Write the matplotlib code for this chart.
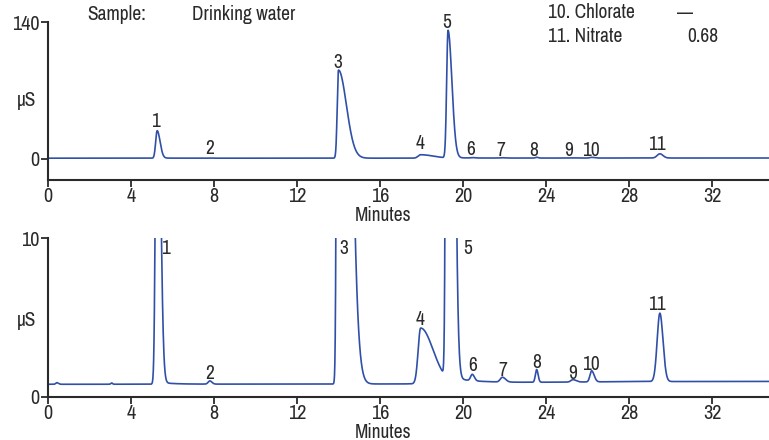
import matplotlib
matplotlib.use("Agg")
import matplotlib.pyplot as plt
from matplotlib import font_manager
import numpy as np

# prefer a narrow face if one is around
narrow = [f.name for f in font_manager.fontManager.ttflist
          if 'Narrow' in f.name or 'Condensed' in f.name or f.stretch == 'condensed']
plt.rcParams['font.family'] = sorted(set(narrow)) + ['DejaVu Sans']
plt.rcParams['font.stretch'] = 'condensed'

# peaks (minutes, µS above baseline)
peak_time = [0.42, 3.07, 5.26, 7.8, 14.0, 17.96, 19.28, 20.45, 21.9, 23.55, 25.3, 26.2, 29.49]
peak_height = [0.1, 0.08, 28.0, 0.2, 90.0, 3.5, 130.0, 0.4, 0.3, 0.8, 0.15, 0.7, 4.3]
sigma_left = [0.05, 0.04, 0.07, 0.08, 0.06, 0.12, 0.066, 0.08, 0.1, 0.06, 0.1, 0.08, 0.13]
sigma_right = [0.08, 0.04, 0.14, 0.1, 0.38, 0.6, 0.185, 0.1, 0.15, 0.07, 0.15, 0.12, 0.15]
tail_amp = [0, 0, 0.15, 0, 0.05, 0, 0.4, 0, 0, 0, 0, 0, 0]
tail_tau = [1, 1, 0.6, 1, 0.5, 1, 1.2, 1, 1, 1, 1, 1, 1]

# baseline drift (minutes, µS)
base_time = [0, 17, 22, 28, 34.75]
base_level = [0.8, 0.82, 0.9, 0.97, 0.98]

# peak labels
label_text = ['1', '2', '3', '4', '5', '6', '7', '8', '9', '10', '11']
top_label_x = [5.16, 7.8, 13.98, 17.93, 19.23, 20.39, 21.83, 23.42, 25.1, 26.17, 29.35]
top_label_y = [38.8, 11.2, 99, 16.3, 139, 9.2, 8.2, 8.2, 8.2, 8.2, 14.3]
bot_label_x = [5.67, 7.8, 14.27, 17.93, 20.24, 20.45, 21.93, 23.55, 25.3, 26.17, 29.35]
bot_label_y = [9.37, 1.5, 9.37, 4.9, 9.37, 1.97, 1.65, 2.18, 1.49, 2.07, 5.83]

x_ticks = [0, 4, 8, 12, 16, 20, 24, 28, 32]

t = np.linspace(0, 34.75, 4000)
signal = np.interp(t, base_time, base_level)
for t0, h, sl, sr, ta, tt in zip(peak_time, peak_height, sigma_left, sigma_right, tail_amp, tail_tau):
    sig = np.where(t < t0, sl, sr)
    signal += h * np.exp(-0.5 * ((t - t0) / sig) ** 2)
    signal += np.where(t > t0, ta * np.exp(-(t - t0) / tt), 0)

trace_color = '#3050a8'
ink = '#2a2a2a'
fs = 14
fs_tick = 14.5

fig = plt.figure(figsize=(7.69, 4.40), dpi=100)
ax1 = fig.add_axes([48 / 769, 1 - 180 / 440, 1 - 48 / 769, 158 / 440])
ax2 = fig.add_axes([48 / 769, 1 - 397 / 440, 1 - 48 / 769, 159 / 440])


def style(ax, ylim, yticks, labx, laby):
    ax.plot(t, signal, color=trace_color, lw=1.2)
    ax.set_xlim(0, 34.75)
    ax.set_ylim(*ylim)
    ax.set_xticks(x_ticks)
    ax.set_yticks(yticks)
    for s in ['top', 'right']:
        ax.spines[s].set_visible(False)
    for s in ['left', 'bottom']:
        ax.spines[s].set_linewidth(1.5)
        ax.spines[s].set_color(ink)
    ax.tick_params(length=5, width=1.3, color=ink, labelcolor=ink, labelsize=fs_tick, pad=1)
    ax.tick_params(axis='x', pad=0)
    for lx, ly, lt in zip(labx, laby, label_text):
        ax.text(lx, ly, lt, ha='center', va='center', fontsize=fs, color=ink)


style(ax1, (-21.5, 140), [0, 140], top_label_x, top_label_y)
style(ax2, (0, 10), [0, 10], bot_label_x, bot_label_y)

fig.text(27 / 769, 1 - 100 / 440, 'µS', ha='center', va='center', fontsize=fs, color=ink)
fig.text(27 / 769, 1 - 320 / 440, 'µS', ha='center', va='center', fontsize=fs, color=ink)
fig.text(383 / 769, 1 - 215 / 440, 'Minutes', ha='center', va='center', fontsize=fs, color=ink)
fig.text(383 / 769, 1 - 432 / 440, 'Minutes', ha='center', va='center', fontsize=fs, color=ink)

fig.text(87 / 769, 1 - 14 / 440, 'Sample:', ha='left', va='center', fontsize=fs, color=ink)
fig.text(192 / 769, 1 - 14 / 440, 'Drinking water', ha='left', va='center', fontsize=fs, color=ink)
fig.text(548 / 769, 1 - 13 / 440, '10. Chlorate', ha='left', va='center', fontsize=fs, color=ink)
fig.text(677 / 769, 1 - 13 / 440, '—', ha='left', va='center', fontsize=fs, color=ink)
fig.text(548 / 769, 1 - 37 / 440, '11. Nitrate', ha='left', va='center', fontsize=fs, color=ink)
fig.text(687 / 769, 1 - 37 / 440, '0.68', ha='left', va='center', fontsize=fs, color=ink)

fig.savefig('out.png', dpi=100)
